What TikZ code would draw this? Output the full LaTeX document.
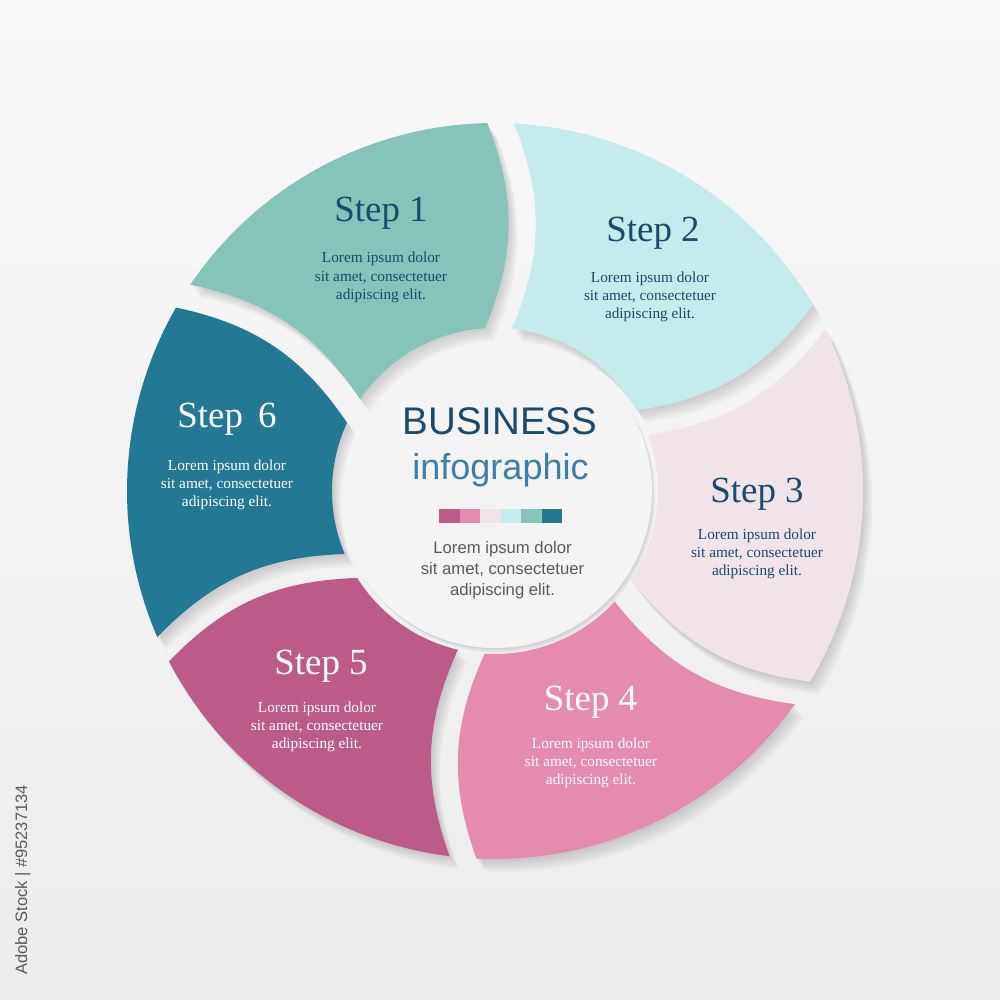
\documentclass[tikz,border=0pt]{standalone}
\usepackage{fontspec}
\setmainfont{Liberation Serif}
\newfontfamily\sansf{Liberation Sans}
\definecolor{cA}{HTML}{86C3B8}
\definecolor{cB}{HTML}{C5ECEC}
\definecolor{cC}{HTML}{F0E4E9}
\definecolor{cD}{HTML}{E68BB0}
\definecolor{cE}{HTML}{BC5B87}
\definecolor{cF}{HTML}{237993}
\definecolor{navy}{HTML}{1B4A6B}
\definecolor{infob}{HTML}{3F7EA6}
\definecolor{graytxt}{HTML}{5A5A5A}
\definecolor{bgtop}{HTML}{F9F9F9}
\definecolor{bgbot}{HTML}{ECECEC}
\definecolor{discc}{HTML}{F4F4F5}
\def\Ro{3.68cm}\def\Ri{1.63cm}\def\dO{2.1}\def\dI{4.75}\def\bnd{22}
\newcommand{\segpath}[4]{({#2-\dO}:\Ro) arc[start angle={#2-\dO}, end angle={#4+\dO}, radius=\Ro] to[bend left=\bnd] ({#3+\dI}:\Ri) arc[start angle={#3+\dI}, end angle={#1-\dI}, radius=\Ri] to[bend right=\bnd] ({#2-\dO}:\Ro) -- cycle}
\tikzset{
  ttl/.style={anchor=base, inner sep=0pt, font=\fontsize{10.5}{12}\selectfont},
  body/.style={anchor=base, inner sep=0pt, align=center, font=\fontsize{4.35}{5.2}\selectfont},
  shad/.style={fill=black, opacity=0.03},
}
\begin{document}
\begin{tikzpicture}
\useasboundingbox (-4.95,-5.09) rectangle (5.05,4.91);
\shade[top color=bgtop, bottom color=bgbot] (-4.95,-5.09) rectangle (5.05,4.91);
% disc shadow and disc
\foreach \s in {1,...,4} \fill[shad] (0.008*\s,-0.012*\s) circle[radius=1.57cm];
\fill[discc] (0,0) circle[radius=1.57cm];
% segments
\foreach \a/\b/\c/\d/\col in {150.5/148/88.8/89.1/cA, 88.8/89.1/24.9/28.2/cB, 24.9/28.2/-38/-33.3/cC, -38/-33.3/-98.4/-95/cD, -98.4/-95/-152.5/-154.5/cE, 207.5/205.5/150.5/148/cF}{
  \foreach \s in {1,...,5} \fill[shad, shift={(0.018*\s,-0.025*\s)}] \segpath{\a}{\b}{\c}{\d};
  \fill[\col] \segpath{\a}{\b}{\c}{\d};
}
% step texts
\node[ttl, text=navy] (t1) at (-1.14,2.69) {Step 1};
\node[body, text=navy] (b1) at (-1.14,1.917) {Lorem ipsum dolor\\sit amet, consectetuer\\adipiscing elit.};
\node[ttl, text=navy] (t2) at (1.58,2.49) {Step 2};
\node[body, text=navy] (b2) at (1.55,1.724) {Lorem ipsum dolor\\sit amet, consectetuer\\adipiscing elit.};
\node[ttl, text=navy] (t3) at (2.62,-0.12) {Step 3};
\node[body, text=navy] (b3) at (2.62,-0.846) {Lorem ipsum dolor\\sit amet, consectetuer\\adipiscing elit.};
\node[ttl, text=white] (t4) at (0.955,-2.20) {Step 4};
\node[body, text=white] (b4) at (0.96,-2.936) {Lorem ipsum dolor\\sit amet, consectetuer\\adipiscing elit.};
\node[ttl, text=white] (t5) at (-1.74,-1.84) {Step 5};
\node[body, text=white] (b5) at (-1.78,-2.576) {Lorem ipsum dolor\\sit amet, consectetuer\\adipiscing elit.};
\node[ttl, text=white] (t6) at (-2.68,0.63) {Step\hspace{0.16em} 6};
\node[body, text=white] (b6) at (-2.68,-0.156) {Lorem ipsum dolor\\sit amet, consectetuer\\adipiscing elit.};
% center
\node[anchor=base, inner sep=0pt, text=navy, font=\sansf\fontsize{10.95}{12}\selectfont] (bus) at (0.05,0.56) {BUSINESS};
\node[anchor=base, inner sep=0pt, text=infob, font=\sansf\fontsize{10.25}{12}\selectfont] (inf) at (0.055,0.11) {infographic};
\foreach \col [count=\i from 0] in {cE,cD,cC,cB,cA,cF}
  \fill[\col] (-0.56+0.205*\i,-0.18) rectangle ++(0.205,-0.14);
\node[anchor=base, inner sep=0pt, align=center, text=graytxt, font=\sansf\fontsize{4.75}{6}\selectfont] (cl) at (0.075,-1.05) {Lorem ipsum dolor\\sit amet, consectetuer\\adipiscing elit.};
\node[rotate=90, inner sep=0pt, text=graytxt, font=\sansf\fontsize{4.7}{6}\selectfont] (wm) at (-4.72,-3.89) {Adobe Stock | \#95237134};
\end{tikzpicture}
\end{document}
